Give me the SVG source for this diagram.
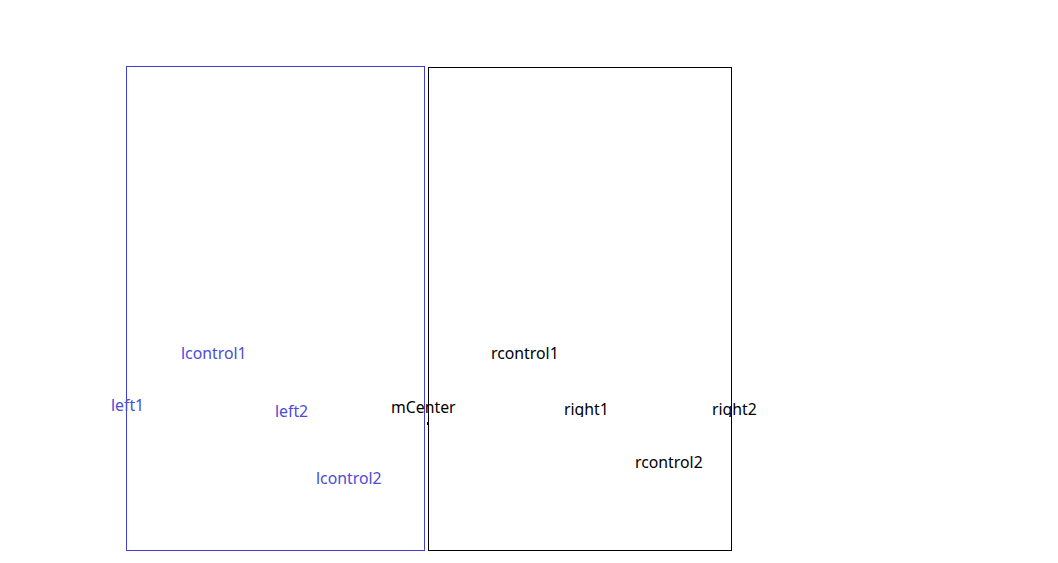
<svg xmlns="http://www.w3.org/2000/svg" width="1058" height="563" viewBox="0 0 1058 563">
<style>
text{font-family:"Noto Sans","Open Sans","Liberation Sans",sans-serif;font-size:15.8px}
.l{fill:#4c4cd6}
.r{fill:#000}
</style>
<defs>
<clipPath id="cut"><rect x="0" y="0" width="1058" height="417"/></clipPath>
</defs>
<rect width="1058" height="563" fill="#fff"/>
<g id="leftBox"><rect x="126.5" y="66.5" width="298" height="484" fill="none" stroke="#4040d8" stroke-width="1"/></g>
<g id="rightBox"><rect x="428.5" y="67.5" width="303" height="483" fill="none" stroke="#000" stroke-width="1"/></g>
<g id="connectors"><line x1="427.5" y1="422" x2="427.5" y2="425" stroke="#000" stroke-width="1"/></g>
<g id="left1"><text class="l" x="111" y="411">left1</text></g>
<g id="lcontrol1"><text class="l" x="181" y="359">lcontrol1</text></g>
<g id="left2"><text class="l" x="275" y="417">left2</text></g>
<g id="lcontrol2"><text class="l" x="316" y="484">lcontrol2</text></g>
<g id="mCenter"><text class="r" x="391" y="413">mCenter</text></g>
<g id="rcontrol1"><text class="r" x="491" y="359">rcontrol1</text></g>
<g id="right1"><text class="r" x="564" y="415" clip-path="url(#cut)">right1</text></g>
<g id="right2"><text class="r" x="712" y="415" clip-path="url(#cut)">right2</text></g>
<g id="rcontrol2"><text class="r" x="635" y="468">rcontrol2</text></g>
</svg>
